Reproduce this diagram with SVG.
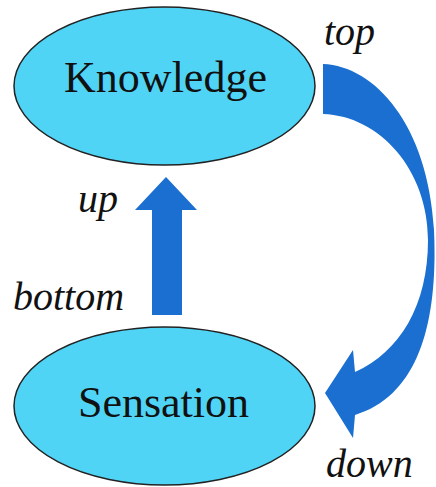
<svg xmlns="http://www.w3.org/2000/svg" width="436" height="487" viewBox="0 0 436 487">
<style>
.node{fill:#50D4F6;stroke:#222;stroke-width:1.5}
.nt{font-size:44px;fill:#111;text-anchor:middle}
.lb{font-style:italic;font-size:40px;fill:#111}
.arr{fill:#1A6FD0}
</style>
<rect width="436" height="487" fill="#fff"/>
<g id="knowledge">
<ellipse class="node" cx="164.5" cy="86" rx="150.5" ry="79"/>
<text class="nt" font-family="Liberation Serif, DejaVu Serif, Times New Roman, serif" x="165.5" y="92">Knowledge</text>
</g>
<g id="sensation">
<ellipse class="node" cx="164.5" cy="406" rx="150.5" ry="79"/>
<text class="nt" font-family="Liberation Serif, DejaVu Serif, Times New Roman, serif" x="163.5" y="417">Sensation</text>
</g>
<g id="connectors">
<polygon class="arr" points="152,315 182,315 182,210 197,210 166,177 135,210 152,210"/>
<path class="arr" d="M323,64 C375,66 428,125 434,230 C438,320 420,395 355,415 L353,438 L325,393 L353,350 L355,372 C400,352 428,305 428,240 C428,170 380,116 323,114 Z"/>
</g>
<g id="labels" font-family="Liberation Serif, DejaVu Serif, Times New Roman, serif">
<text class="lb" x="324" y="45">top</text>
<text class="lb" x="78" y="212">up</text>
<text class="lb" x="13" y="310">bottom</text>
<text class="lb" x="326" y="477">down</text>
</g>
</svg>
